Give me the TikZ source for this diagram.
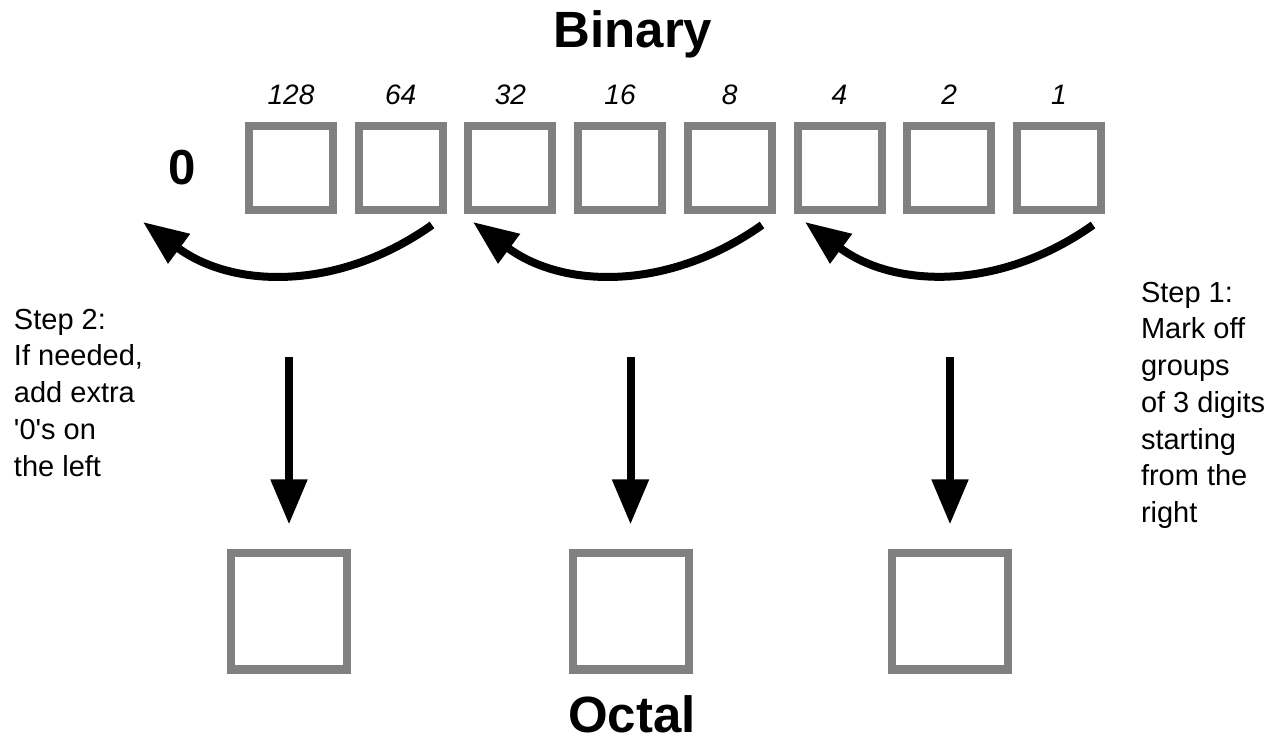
\documentclass[tikz,border=0pt]{standalone}
\usepackage{fontspec}
\setmainfont{Liberation Sans}
\usetikzlibrary{arrows.meta}

\begin{document}
\begin{tikzpicture}[node distance=2.194cm, line width=0.16cm, label distance=0.28cm,
                    bit node/.style={rectangle,draw=gray,minimum size=1.68cm,inner sep=0pt},
                    oct node/.style={rectangle,draw=gray,minimum size=2.32cm,inner sep=0pt},
                    weight/.style={font=\fontsize{16}{19}\selectfont\itshape,inner sep=0pt},
                    title/.style={font=\fontsize{29}{34}\selectfont\bfseries,inner sep=0pt,anchor=base},
                    note text/.style={font=\fontsize{16.5}{20.9}\selectfont,align=left,inner sep=0pt,anchor=north west},
                    group arrow/.style={-{Triangle[length=0.9cm,width=0.7cm]},bend left=36},
                    down arrow/.style={-{Triangle[length=0.9cm,width=0.7cm]},shorten >=0.5cm}]

  \useasboundingbox (0,0) rectangle (25.6,14.92);

  \node[title] (bin) at (12.66,13.96) {Binary};
  \node[title] (oct) at (12.64,0.28) {Octal};

  % binary digits
  \node[bit node,label={[weight]above:128}] (1) at (5.82,11.55) {};
  \node[bit node,label={[weight]above:64}] (2) [right of=1] {};
  \node[bit node,label={[weight]above:32}] (3) [right of=2] {};
  \node[bit node,label={[weight]above:16}] (4) [right of=3] {};
  \node[bit node,label={[weight]above:8}] (5) [right of=4] {};
  \node[bit node,label={[weight]above:4}] (6) [right of=5] {};
  \node[bit node,label={[weight]above:2}] (7) [right of=6] {};
  \node[bit node,label={[weight]above:1}] (8) [right of=7] {};
  \node[font=\fontsize{28}{33}\selectfont\bfseries,inner sep=0pt] (pad) at (3.64,11.56) {0};

  % octal digits
  \node[oct node] (o1) at (5.78,2.69) {};
  \node[oct node] (o2) at (12.61,2.69) {};
  \node[oct node] (o3) at (19.0,2.69) {};

  % groups of three
  \coordinate (g1s) at (8.64,10.42);
  \coordinate (g1e) at (2.86,10.48);
  \coordinate (g2s) at (15.24,10.42);
  \coordinate (g2e) at (9.46,10.48);
  \coordinate (g3s) at (21.86,10.42);
  \coordinate (g3e) at (16.10,10.48);
  \draw[group arrow] (g1s) to (g1e);
  \draw[group arrow] (g2s) to (g2e);
  \draw[group arrow] (g3s) to (g3e);

  \coordinate (d1) at (5.78,7.78);
  \coordinate (d2) at (12.61,7.78);
  \coordinate (d3) at (19.0,7.78);
  \draw[down arrow] (d1) -- (o1);
  \draw[down arrow] (d2) -- (o2);
  \draw[down arrow] (d3) -- (o3);

  \node[note text] (step2) at (0.2,8.82) {Step 2:\\If needed,\\add extra\\\textquotesingle 0\textquotesingle s on\\the left};
  \node[note text] (step1) at (22.74,9.36) {Step 1:\\Mark off\\groups\\of 3 digits\\starting\\from the\\right};

\end{tikzpicture}
\end{document}
